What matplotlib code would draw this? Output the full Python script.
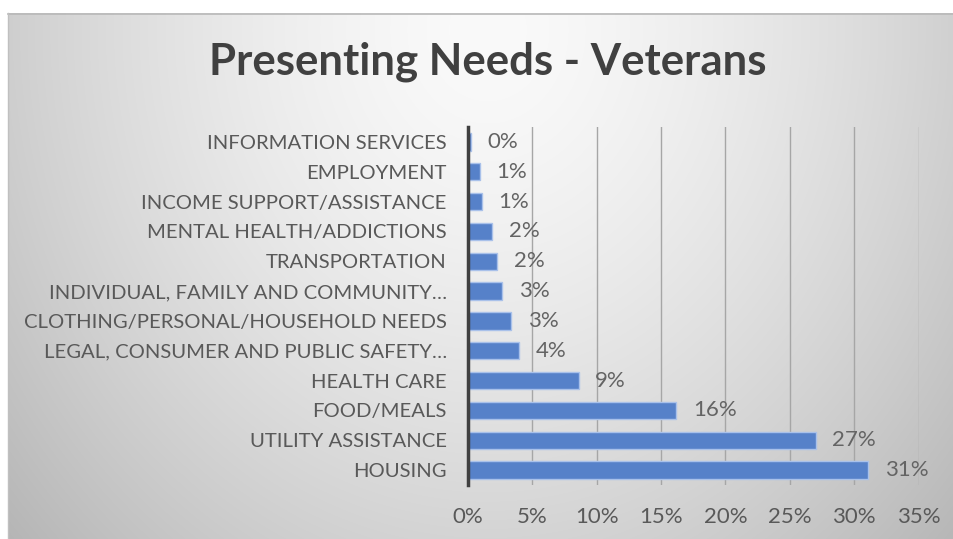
import numpy as np
import matplotlib
matplotlib.use("Agg")
import matplotlib.pyplot as plt

# Presenting needs among veterans, share of all requests (%), top to bottom
categories = [
    "INFORMATION SERVICES",
    "EMPLOYMENT",
    "INCOME SUPPORT/ASSISTANCE",
    "MENTAL HEALTH/ADDICTIONS",
    "TRANSPORTATION",
    "INDIVIDUAL, FAMILY AND COMMUNITY…",
    "CLOTHING/PERSONAL/HOUSEHOLD NEEDS",
    "LEGAL, CONSUMER AND PUBLIC SAFETY…",
    "HEALTH CARE",
    "FOOD/MEALS",
    "UTILITY ASSISTANCE",
    "HOUSING",
]
shares = [0.26, 0.93, 1.09, 1.9, 2.3, 2.7, 3.36, 4.0, 8.6, 16.2, 27.0, 31.1]
x_ticks = [0, 5, 10, 15, 20, 25, 30, 35]

W, H, DPI = 954, 539, 100
plt.rcParams["font.family"] = ["Lato", "DejaVu Sans"]

fig = plt.figure(figsize=(W / DPI, H / DPI), dpi=DPI)
fig.patch.set_facecolor("white")

# Chart-area background: radial grey gradient, lightest near the top centre
bg = fig.add_axes([0, 0, 1, 1])
bg.set_xlim(0, W)
bg.set_ylim(H, 0)
bg.axis("off")
x0, y0 = 8, 13
xs = np.arange(x0, W) + 0.5
ys = np.arange(y0, H) + 0.5
X, Y = np.meshgrid(xs, ys)
r = np.sqrt(((X - 488) / 560.0) ** 2 + ((Y - 30) / 650.0) ** 2)
g = np.clip(250 - 55 * np.clip(r, 0, 1.2) ** 1.5, 0, 255) / 255.0
img = np.dstack([g, g, g])
bg.imshow(img, extent=(x0, W, H, y0), interpolation="bilinear", aspect="auto")
bg.plot([x0, W], [y0 + 0.5, y0 + 0.5], color="#b8b8b8", lw=1.2)
bg.plot([x0 + 0.5, x0 + 0.5], [y0, H], color="#c0c0c0", lw=1.0)

# Bar chart
left_px, right_px, top_px, bottom_px = 467.7, 918.7, 127, 485
ax = fig.add_axes([left_px / W, 1 - bottom_px / H,
                   (right_px - left_px) / W, (bottom_px - top_px) / H])
ax.patch.set_alpha(0)

ypos = np.arange(len(categories))
ax.barh(ypos, shares, height=0.58, color="#5681c9",
        edgecolor="#a9c1ea", linewidth=1.0, zorder=3)

ax.set_xlim(0, 35)
ax.set_ylim(len(categories) - 0.5, -0.5)
ax.set_xticks(x_ticks)
ax.set_xticklabels([f"{t}%" for t in x_ticks])
ax.set_yticks(ypos)
ax.set_yticklabels(categories)

ax.grid(axis="x", color="#a6a6a6", lw=1.0, zorder=1)
ax.grid(axis="y", visible=False)
for side in ("top", "right", "bottom"):
    ax.spines[side].set_visible(False)
ax.spines["left"].set_color("#404040")
ax.spines["left"].set_linewidth(2.5)
ax.spines["left"].set_zorder(4)

ax.tick_params(axis="x", length=0, pad=16, labelsize=16, labelcolor="#595959")
ax.tick_params(axis="y", length=0, pad=15, labelsize=14.6, labelcolor="#595959")

for yv, v in zip(ypos, shares):
    ax.annotate(f"{v:.0f}%", xy=(v, yv), xytext=(12, 0),
                textcoords="offset points", va="center", ha="left",
                fontsize=16, color="#646464", zorder=5)

fig.text(488 / W, 1 - 62 / H, "Presenting Needs - Veterans",
         ha="center", va="center", fontsize=31.5, fontweight="bold",
         color="#404040")

fig.savefig("out.png", dpi=DPI, facecolor=fig.get_facecolor())
